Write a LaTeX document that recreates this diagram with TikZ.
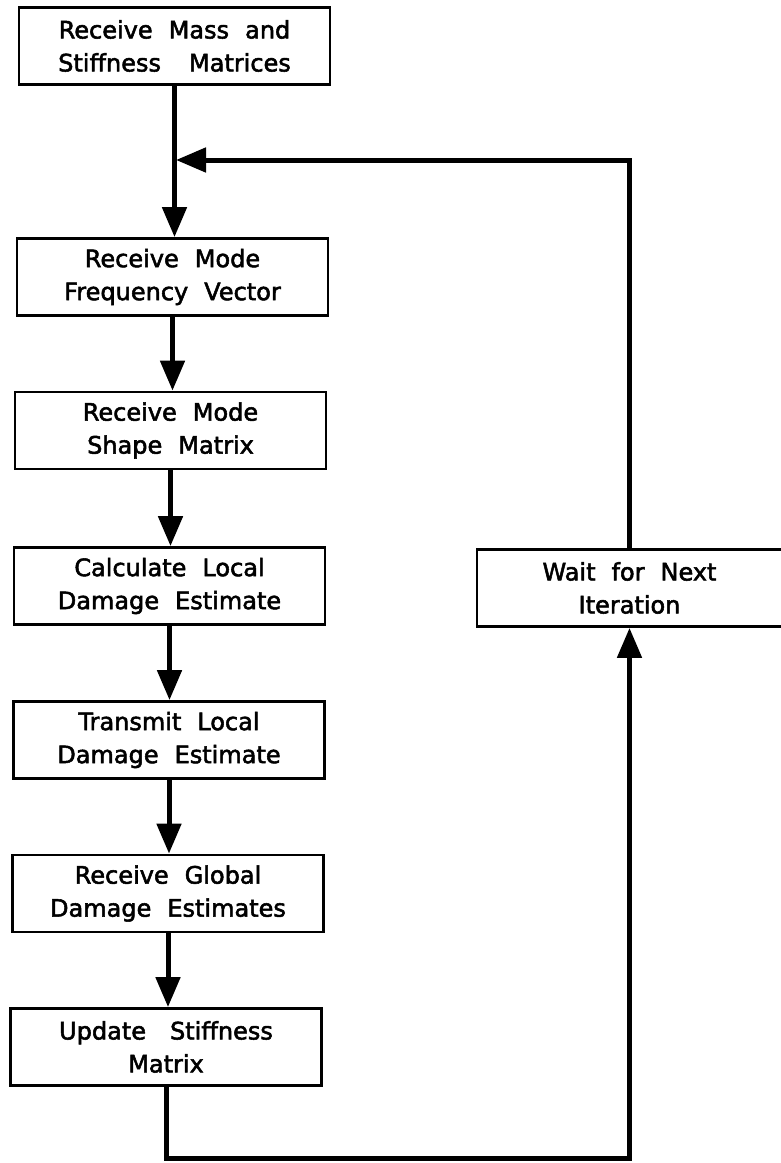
\documentclass[tikz,border=0pt]{standalone}
\usepackage{fontspec}
\setmainfont[FakeBold=2.2,WordSpace={2.1,1,1}]{DejaVu Sans}
\usetikzlibrary{arrows.meta}
\begin{document}
\begin{tikzpicture}[x=1pt,y=-1pt,
  stepbox/.style={draw, line width=2.8pt, minimum width=311pt, minimum height=77pt,
    inner sep=0pt, align=center, font=\fontsize{24}{33}\selectfont},
  flow/.style={line width=5pt, -{Triangle[length=30pt,width=24pt]}}]
\useasboundingbox (0,0) rectangle (781,1163);
% main chain of processing steps
\node[stepbox] (b1) at (174.5,46)  {Receive Mass and\\Stiffness\hspace{12pt} Matrices};
\node[stepbox] (b2) at (172.5,277) {Receive Mode\\Frequency Vector};
\node[stepbox] (b3) at (170.5,430.5) {Receive Mode\\Shape Matrix};
\node[stepbox] (b4) at (169.5,586) {Calculate Local\\Damage Estimate};
\node[stepbox] (b5) at (169,740)   {Transmit Local\\Damage Estimate};
\node[stepbox] (b6) at (168,893.5) {Receive Global\\Damage Estimates};
\node[stepbox] (b7) at (166,1047)  {Update\hspace{8pt} Stiffness\\Matrix};
% waiting step on the return path
\node[stepbox, minimum width=305pt] (w) at (629.5,588) {Wait for Next\\Iteration};
% loop corners
\coordinate (lb) at (0,1158);
\coordinate (j) at (176,160);
\draw[flow] (b1.south) -- (b1.south |- b2.north);
\draw[flow] (b2.south) -- (b2.south |- b3.north);
\draw[flow] (b3.south) -- (b3.south |- b4.north);
\draw[flow] (b4.south) -- (b4.south |- b5.north);
\draw[flow] (b5.south) -- (b5.south |- b6.north);
\draw[flow] (b6.south) -- (b6.south |- b7.north);
\draw[flow] (b7.south) -- (b7.south |- lb) -| (w.south);
\draw[flow] (w.north) |- (j);
\end{tikzpicture}
\end{document}
